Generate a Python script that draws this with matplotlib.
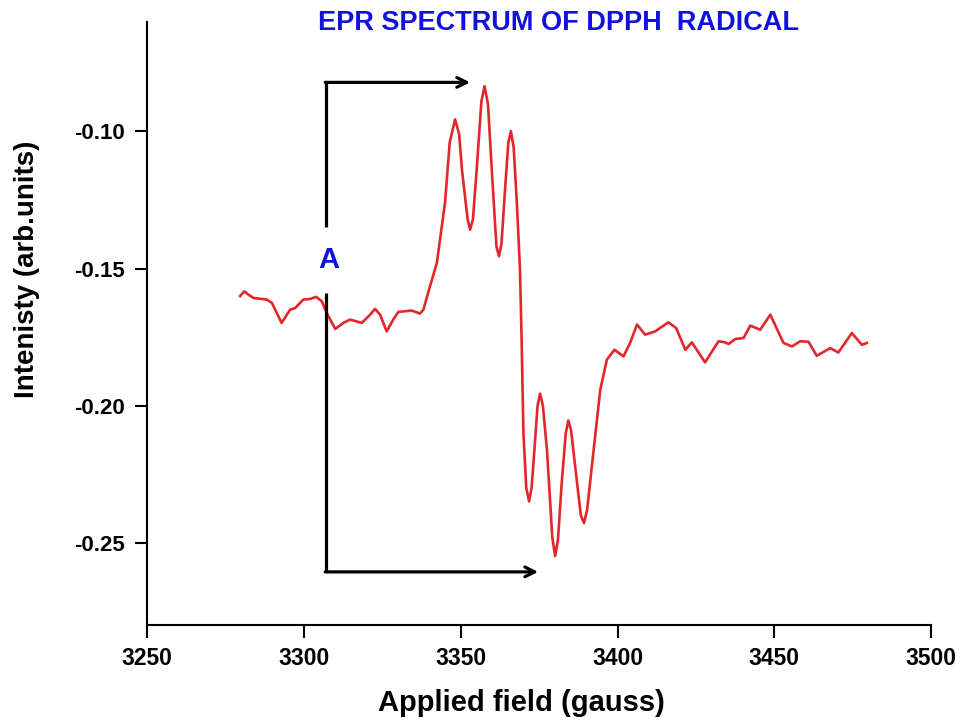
import matplotlib
matplotlib.use("Agg")
import matplotlib.pyplot as plt

plt.rcParams['font.family'] = ['Liberation Sans', 'DejaVu Sans']

# EPR spectrum
field = [3279.7, 3281.0, 3282.3, 3283.9, 3288.2, 3289.8, 3292.9, 3295.6, 3297.2, 3299.8,
         3302.0, 3303.9, 3305.7, 3307.3, 3310.0, 3312.6, 3314.7, 3318.5, 3321.1, 3322.7,
         3324.3, 3326.4, 3328.5, 3330.1, 3334.4, 3337.0, 3338.1, 3340.2, 3342.4, 3345.0,
         3346.5, 3348.2, 3349.5, 3350.4, 3352.2, 3353.0, 3353.9, 3355.1, 3356.6, 3357.6,
         3358.7, 3359.9, 3361.4, 3362.2, 3363.0, 3364.2, 3365.2, 3366.0, 3366.9, 3367.9,
         3368.9, 3369.4, 3370.0, 3370.9, 3371.8, 3372.6, 3373.5, 3374.5, 3375.3, 3376.2,
         3377.5, 3379.2, 3380.1, 3381.0, 3382.2, 3383.5, 3384.3, 3385.2, 3386.5, 3388.3,
         3389.3, 3390.3, 3391.8, 3394.5, 3396.6, 3399.0, 3401.9, 3404.0, 3406.2, 3408.8,
         3412.0, 3416.2, 3418.7, 3421.6, 3423.7, 3427.9, 3432.2, 3434.3, 3435.4, 3437.5,
         3440.2, 3442.3, 3445.5, 3448.7, 3452.9, 3455.6, 3458.2, 3460.9, 3463.5, 3467.8,
         3470.4, 3474.7, 3477.9, 3479.5]
intensity = [-0.1600, -0.1583, -0.1595, -0.1607, -0.1613, -0.1625, -0.1698, -0.1650, -0.1644, -0.1613,
             -0.1611, -0.1603, -0.1619, -0.1662, -0.1720, -0.1698, -0.1686, -0.1698, -0.1668, -0.1647,
             -0.1668, -0.1729, -0.1686, -0.1658, -0.1653, -0.1664, -0.1650, -0.1565, -0.1479, -0.1260,
             -0.1040, -0.0956, -0.1010, -0.1139, -0.1320, -0.1358, -0.1320, -0.1139, -0.0890, -0.0835,
             -0.0900, -0.1139, -0.1420, -0.1455, -0.1410, -0.1200, -0.1040, -0.0999, -0.1060, -0.1260,
             -0.1504, -0.1750, -0.2100, -0.2300, -0.2349, -0.2300, -0.2161, -0.2000, -0.1956, -0.2000,
             -0.2161, -0.2480, -0.2548, -0.2490, -0.2282, -0.2100, -0.2054, -0.2090, -0.2222, -0.2400,
             -0.2428, -0.2380, -0.2222, -0.1942, -0.1832, -0.1796, -0.1820, -0.1771, -0.1704, -0.1741,
             -0.1729, -0.1696, -0.1717, -0.1796, -0.1769, -0.1842, -0.1765, -0.1769, -0.1775, -0.1757,
             -0.1753, -0.1708, -0.1723, -0.1668, -0.1771, -0.1784, -0.1765, -0.1767, -0.1818, -0.1790,
             -0.1806, -0.1735, -0.1778, -0.1771]

xticks = [3250, 3300, 3350, 3400, 3450, 3500]
yticks = [-0.25, -0.20, -0.15, -0.10]

# marker A: vertical bar and two arrows
a_x = 3307.1
a_top, a_gap_hi, a_gap_lo, a_bottom = -0.0821, -0.135, -0.1588, -0.2606
arrow_top_end = 3353.0
arrow_bottom_end = 3374.7

fig = plt.figure(figsize=(9.61, 7.26), dpi=100)
ax = fig.add_axes([0.153, 0.139, 0.816, 0.831])

ax.plot(field, intensity, color='#e3262b', linewidth=1.9, solid_joinstyle='round')

ax.plot([a_x, a_x], [a_top, a_gap_hi], color='black', linewidth=2.3, solid_capstyle='butt')
ax.plot([a_x, a_x], [a_gap_lo, a_bottom], color='black', linewidth=2.3, solid_capstyle='butt')
for y_end, x_end in [(a_top, arrow_top_end), (a_bottom, arrow_bottom_end)]:
    ax.annotate('', xy=(x_end, y_end), xytext=(a_x - 0.3, y_end),
                arrowprops=dict(arrowstyle='->,head_length=0.7,head_width=0.35',
                                color='black', lw=2.3, shrinkA=0, shrinkB=0))
ax.text(a_x + 0.8, -0.1467, 'A', color='#1010e0', fontsize=21, fontweight='bold',
        ha='center', va='center')

ax.set_xlim(3250, 3500)
ax.set_ylim(-0.28, -0.06)
ax.set_xticks(xticks)
ax.set_xticklabels([str(t) for t in xticks])
ax.set_yticks(yticks)
ax.set_yticklabels(['%.2f' % t for t in yticks])

for s in ['top', 'right']:
    ax.spines[s].set_visible(False)
for s in ['left', 'bottom']:
    ax.spines[s].set_linewidth(1.5)
ax.tick_params(direction='out', length=9, width=1.5, pad=7)
ax.tick_params(axis='x', labelsize=16.5)
ax.tick_params(axis='y', labelsize=16)
for lab in ax.get_xticklabels() + ax.get_yticklabels():
    lab.set_fontweight('bold')

ax.set_xlabel('Applied field (gauss)', fontsize=21, fontweight='bold')
ax.xaxis.set_label_coords(0.477, -0.106)
ax.set_ylabel('Intenisty (arb.units)', fontsize=20, fontweight='bold')
ax.yaxis.set_label_coords(-0.137, 0.589)

fig.text(0.581, 0.968, 'EPR SPECTRUM OF DPPH  RADICAL', color='#1010e0', fontsize=19.5,
         fontweight='bold', ha='center', va='center')

fig.savefig('out.png', dpi=100)
